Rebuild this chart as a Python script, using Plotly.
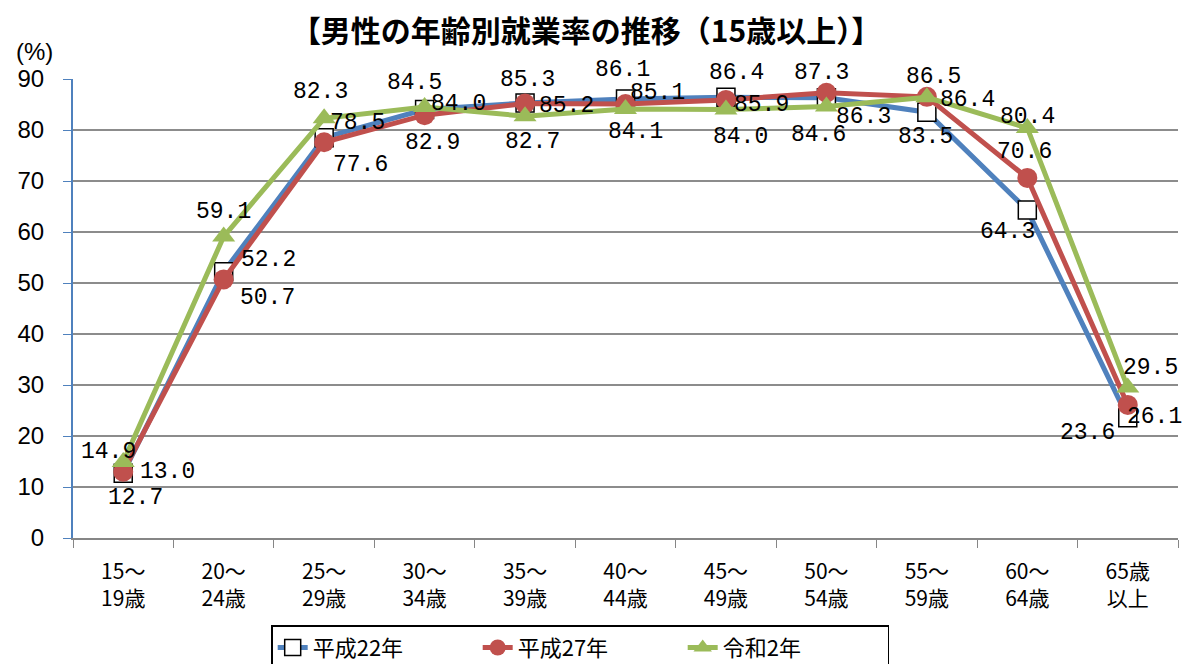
import plotly.graph_objects as go

# Age groups (two-line tick labels)
categories = ["15～<br>19歳", "20～<br>24歳", "25～<br>29歳", "30～<br>34歳", "35～<br>39歳",
              "40～<br>44歳", "45～<br>49歳", "50～<br>54歳", "55～<br>59歳", "60～<br>64歳",
              "65歳<br>以上"]

# Employment rate of men by age group (%)
h22 = [12.7, 52.2, 78.5, 84.0, 85.3, 86.1, 86.4, 86.3, 83.5, 64.3, 23.6]
h27 = [13.0, 50.7, 77.6, 82.9, 85.2, 85.1, 85.9, 87.3, 86.5, 70.6, 26.1]
r2 = [14.9, 59.1, 82.3, 84.5, 82.7, 84.1, 84.0, 84.6, 86.4, 80.4, 29.5]

series_names = ["平成22年", "平成27年", "令和2年"]

# Label offsets (px, x right / y up) from each point, per series
off_h22 = [(12, -25), (45, 12), (33, 15), (34, 6), (2, 23), (-3, 29), (11, 24),
           (37, -19), (-1, -25), (-20, -22), (-40, -15)]
off_h27 = [(44, 0), (44, -19), (36, -23), (8, -28), (41, -3), (32, 11), (36, -5),
           (-5, 20), (7, 20), (-3, 26), (27, -12)]
off_r2 = [(-15, 10), (0, 25), (-4, 26), (-10, 24), (7, -26), (10, -23), (15, -27),
          (-8, -28), (41, -3), (0, 11), (23, 20)]

label_font = dict(family="Liberation Mono, DejaVu Sans Mono, monospace", size=23, color="#000000")

styles = [
    dict(color="#4F81BD", marker=dict(symbol="square", size=18, color="#FFFFFF",
                                       line=dict(color="#000000", width=1.5))),
    dict(color="#C0504D", marker=dict(symbol="circle", size=20, color="#C0504D")),
    dict(color="#9BBB59", marker=dict(symbol="triangle-up", size=20, color="#9BBB59")),
]

fig = go.Figure()
annotations = []
for name, values, offsets, st in zip(series_names, [h22, h27, r2],
                                     [off_h22, off_h27, off_r2], styles):
    fig.add_trace(go.Scatter(
        x=categories, y=values, name=name, mode="lines+markers",
        line=dict(color=st["color"], width=5), marker=st["marker"],
        cliponaxis=False,
    ))
    for cat, v, (dx, dy) in zip(categories, values, offsets):
        annotations.append(dict(
            x=cat, y=v, xref="x", yref="y", text=f"{v:.1f}", showarrow=False,
            xanchor="center", yanchor="middle", xshift=dx, yshift=dy, font=label_font,
        ))

annotations.append(dict(text="(%)", xref="paper", yref="paper", x=-0.035, y=1.06,
                        xanchor="center", yanchor="middle", showarrow=False,
                        font=dict(size=24, family="Liberation Sans Narrow, Liberation Sans, sans-serif")))

fig.update_layout(
    width=1184, height=664,
    margin=dict(l=73, r=6, t=79, b=126, autoexpand=False),
    paper_bgcolor="#FFFFFF", plot_bgcolor="#FFFFFF",
    font=dict(family="Noto Sans CJK JP, sans-serif", color="#000000"),
    title=dict(text="<b>【男性の年齢別就業率の推移（15歳以上）】</b>",
               x=0.495, xanchor="center", y=0.952, yanchor="middle",
               font=dict(size=30, family="Noto Sans CJK JP", color="#000000")),
    showlegend=True,
    legend=dict(orientation="h", x=0.459, xanchor="center", y=-0.19, yanchor="top",
                bordercolor="#000000", borderwidth=1.5, bgcolor="#FFFFFF",
                font=dict(size=22, family="Noto Sans CJK JP"),
                entrywidth=160, entrywidthmode="pixels", traceorder="normal"),
    xaxis=dict(
        type="category", tickson="boundaries", ticks="outside", ticklen=8,
        tickcolor="#868686", showline=True, linecolor="#868686", linewidth=1.5,
        showgrid=False, tickfont=dict(size=21, family="Noto Sans CJK JP"),
        range=[-0.5, 10.5], automargin=False, ticklabelstandoff=14,
    ),
    yaxis=dict(
        range=[0, 90], dtick=10, ticks="outside", ticklen=8, tickcolor="#4F81BD",
        showline=True, linecolor="#4F81BD", linewidth=2,
        showgrid=True, gridcolor="#8C8C8C", gridwidth=2, zeroline=False,
        tickfont=dict(size=24, family="Liberation Sans Narrow, Liberation Sans, sans-serif"),
        automargin=False, ticklabelstandoff=14,
    ),
    annotations=annotations,
)

fig.write_html("out.html")
